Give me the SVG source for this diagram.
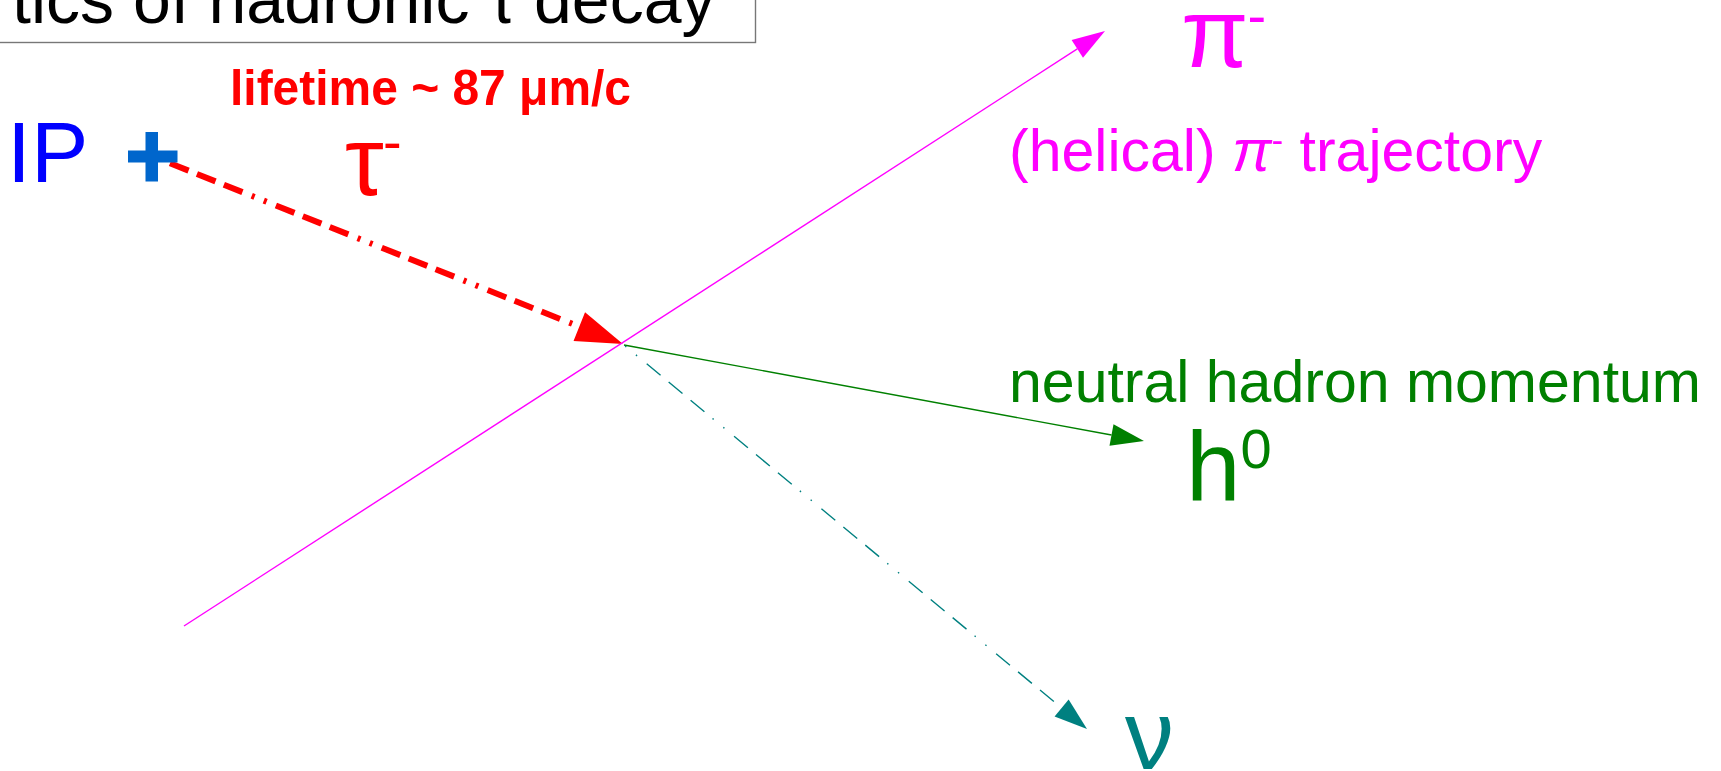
<svg xmlns="http://www.w3.org/2000/svg" width="1721" height="771" viewBox="0 0 1721 771">
<style>
text { font-family: "Liberation Sans", Arial, sans-serif; }
.big { font-size: 98px; }
.sup { font-size: 56px; }
.thin { fill: none; stroke-width: 1.4; }
</style>
<defs>
<marker id="ahRed" markerUnits="userSpaceOnUse" viewBox="0 -16 47 32" markerWidth="47" markerHeight="32" refX="0" refY="0" orient="auto" overflow="visible"><path d="M0,-15.5 L47,0 L0,15.5 Z" fill="#ff0000"/></marker>
<marker id="ahMag" markerUnits="userSpaceOnUse" viewBox="0 -11 33 22" markerWidth="33" markerHeight="22" refX="0" refY="0" orient="auto" overflow="visible"><path d="M0,-10.5 L33,0 L0,10.5 Z" fill="#ff00ff"/></marker>
<marker id="ahGreen" markerUnits="userSpaceOnUse" viewBox="0 -11 33 22" markerWidth="33" markerHeight="22" refX="0" refY="0" orient="auto" overflow="visible"><path d="M0,-11 L33,0 L0,11 Z" fill="#008000"/></marker>
<marker id="ahTeal" markerUnits="userSpaceOnUse" viewBox="0 -11 33 22" markerWidth="33" markerHeight="22" refX="0" refY="0" orient="auto" overflow="visible"><path d="M0,-11 L33,0 L0,11 Z" fill="#008080"/></marker>
</defs>
<rect x="0" y="0" width="1721" height="771" fill="#ffffff"/>
<g id="title">
<rect x="-10" y="-10" width="765.5" height="52.5" fill="#ffffff" stroke="#777777" stroke-width="1.4"/>
<text x="715.5" y="23" font-size="68" text-anchor="end" fill="#000000">tics of hadronic τ decay</text>
</g>
<g id="connectors">
<line id="tau-track" x1="170" y1="163.2" x2="579.3" y2="326.6" stroke="#ff0000" stroke-width="6" stroke-dasharray="20 9 20 9 20 10 3 10 3 10" marker-end="url(#ahRed)"/>
<line id="pion-track" class="thin" x1="184" y1="626" x2="1077.3" y2="48.9" stroke="#ff00ff" stroke-width="1.2" marker-end="url(#ahMag)"/>
<line id="hadron-track" class="thin" x1="624" y1="345" x2="1111.5" y2="435" stroke="#008000" marker-end="url(#ahGreen)"/>
<line id="nu-track" class="thin" x1="624" y1="345" x2="1061.6" y2="708" stroke="#008080" stroke-dasharray="18 10.5 18 10.5 18 10.5 1.5 12.5 1.5 12.5" stroke-dashoffset="84" marker-end="url(#ahTeal)"/>
</g>
<g id="ip">
<text x="7" y="182" font-size="86" fill="#0000ff">IP</text>
<rect x="128" y="150.5" width="49.5" height="12" fill="#0066cc"/>
<rect x="145.5" y="132" width="12.5" height="49.5" fill="#0066cc"/>
</g>
<g id="tau">
<text class="big" x="345" y="195" fill="#ff0000">τ<tspan class="sup" x="383" dy="-34">-</tspan></text>
</g>
<g id="lifetime">
<text x="230" y="105" font-size="50" font-weight="bold" fill="#ff0000" textLength="401" lengthAdjust="spacingAndGlyphs">lifetime ~ 87 μm/c</text>
</g>
<g id="pion">
<text class="big" x="1181" y="67" fill="#ff00ff">π<tspan class="sup" x="1247.5" dy="-32">-</tspan></text>
</g>
<g id="pion-label">
<text x="1009" y="171" font-size="59" fill="#ff00ff">(helical) <tspan font-style="italic">π</tspan><tspan font-size="35" dy="-19.5">-</tspan><tspan dy="19.5"> trajectory</tspan></text>
</g>
<g id="hadron-label">
<text x="1009" y="402" font-size="59" fill="#008000">neutral hadron momentum</text>
</g>
<g id="hadron">
<text class="big" x="1186" y="500" fill="#008000">h<tspan class="sup" x="1240.5" dy="-32">0</tspan></text>
</g>
<g id="neutrino">
<text class="big" x="1125" y="769" fill="#008080">ν</text>
</g>
</svg>
